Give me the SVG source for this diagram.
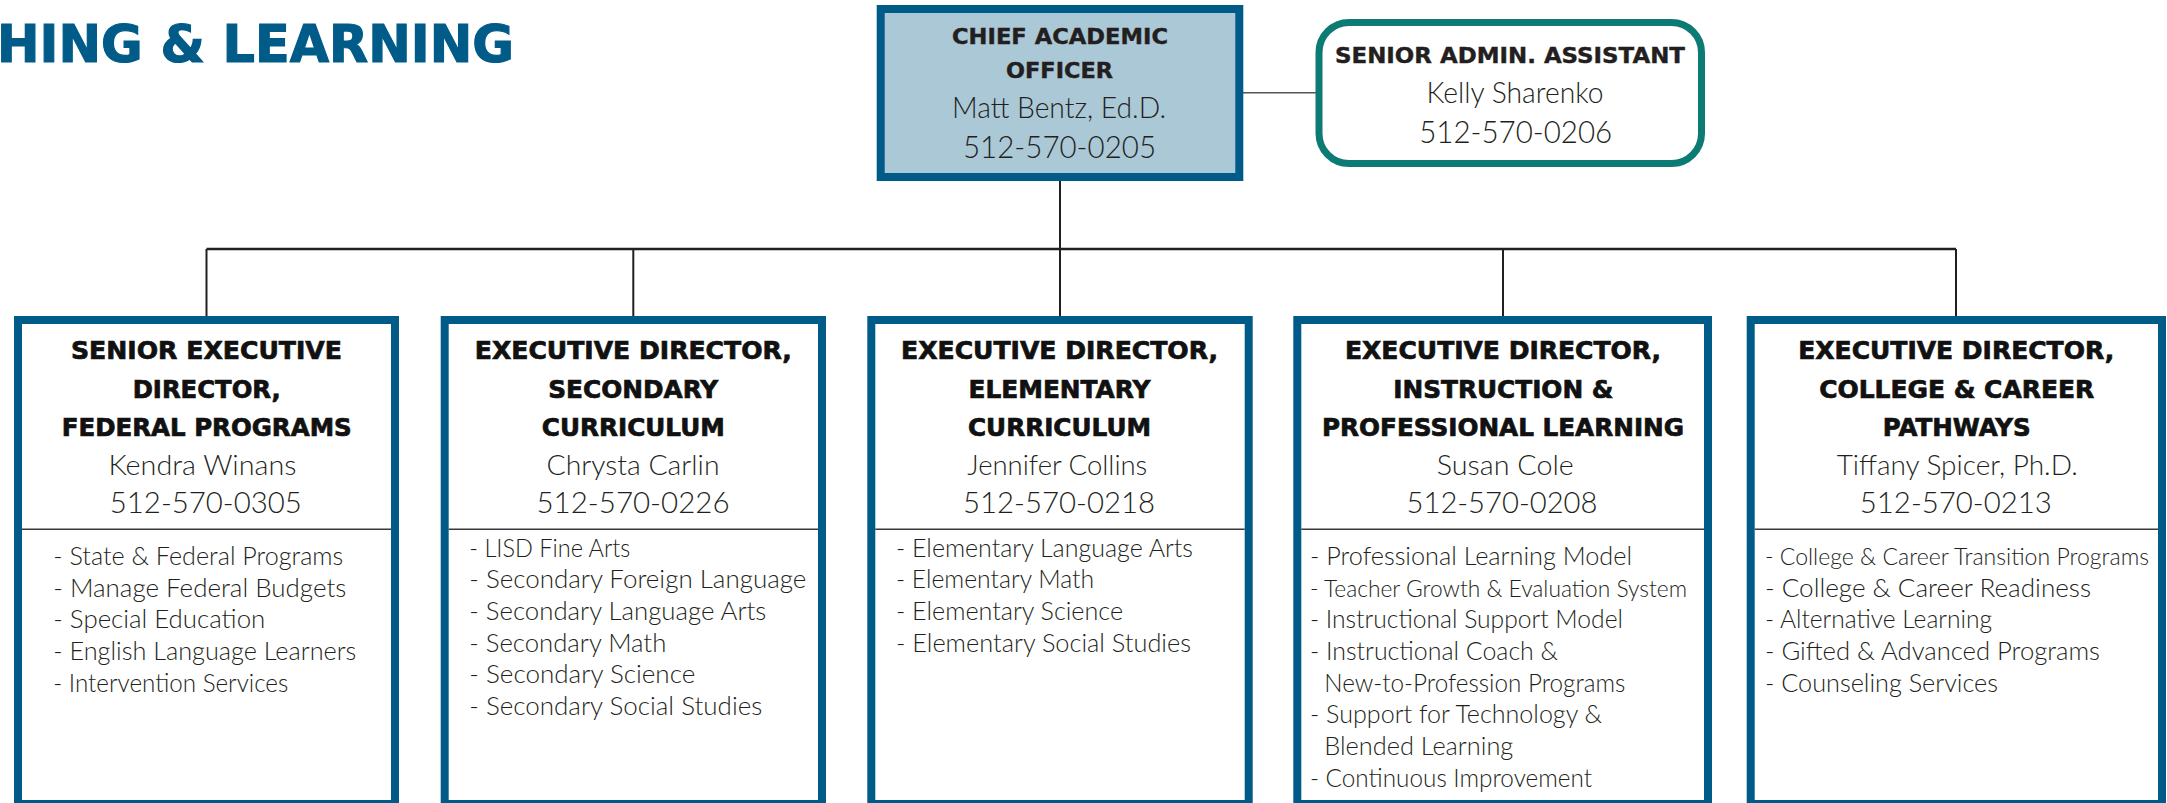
<svg xmlns="http://www.w3.org/2000/svg" width="2167" height="803" viewBox="0 0 2167 803">
<style>
.bg{fill:#ffffff}
.box{fill:#ffffff;stroke:#005b88;stroke-width:8}
.cao{fill:#abc8d7;stroke:#005b88;stroke-width:8}
.adm{fill:#ffffff;stroke:#0b7b73;stroke-width:7}
.div{stroke:#3a3a3a;stroke-width:1.5}
.con{stroke:#231f20;stroke-width:2;fill:none}
.conh{stroke:#231f20;stroke-width:2.6;fill:none}
.cona{stroke:#555555;stroke-width:1.5;fill:none}
.hdr{font-family:"DejaVu Sans",sans-serif;font-weight:700;font-size:51px;fill:#005b88;stroke:#005b88;stroke-width:1.2}
.t{font-family:"DejaVu Sans",sans-serif;font-weight:700;font-size:24px;fill:#111111;stroke:#111111;stroke-width:0.7;text-anchor:middle}
.tt{font-family:"DejaVu Sans",sans-serif;font-weight:700;font-size:21px;fill:#231f20;stroke:#231f20;stroke-width:0.4;text-anchor:middle}
.nm{font-family:Lato,"Open Sans",sans-serif;font-weight:300;font-size:28px;fill:#231f20;text-anchor:middle}
.ph{font-family:Lato,"Open Sans",sans-serif;font-weight:300;font-size:30px;fill:#231f20;text-anchor:middle}
.nmt{font-family:Lato,"Open Sans",sans-serif;font-weight:300;font-size:30px;fill:#231f20;text-anchor:middle}
.pht{font-family:Lato,"Open Sans",sans-serif;font-weight:300;font-size:31px;fill:#231f20;text-anchor:middle}
.li{font-family:Lato,"Open Sans",sans-serif;font-weight:300;font-size:26px;fill:#231f20}
.ls{font-family:Lato,"Open Sans",sans-serif;font-weight:300;font-size:23px;fill:#231f20}
</style>
<rect class="bg" x="0" y="0" width="2167" height="803"/>
<text class="hdr" x="-3" y="62" textLength="517" lengthAdjust="spacingAndGlyphs">HING &amp; LEARNING</text>

<g id="connectors">
<line class="cona" x1="1243" y1="92.7" x2="1316" y2="92.7"/>
<line class="con" x1="1060" y1="181" x2="1060" y2="249"/>
<line class="conh" x1="206.5" y1="249" x2="1956" y2="249"/>
<line class="con" x1="206.5" y1="249" x2="206.5" y2="316"/>
<line class="con" x1="633.3" y1="249" x2="633.3" y2="316"/>
<line class="con" x1="1060" y1="249" x2="1060" y2="316"/>
<line class="con" x1="1503" y1="249" x2="1503" y2="316"/>
<line class="con" x1="1956" y1="249" x2="1956" y2="316"/>
</g>

<g id="cao">
<rect class="cao" x="880.7" y="9" width="358.6" height="168"/>
<text class="tt" x="1060" y="44" textLength="216" lengthAdjust="spacingAndGlyphs">CHIEF ACADEMIC</text>
<text class="tt" x="1059.5" y="78" textLength="107" lengthAdjust="spacingAndGlyphs">OFFICER</text>
<text class="nmt" x="1059" y="118" textLength="214" lengthAdjust="spacingAndGlyphs">Matt Bentz, Ed.D.</text>
<text class="pht" x="1059.5" y="158" textLength="193" lengthAdjust="spacingAndGlyphs">512-570-0205</text>
</g>

<g id="admin">
<rect class="adm" x="1319" y="22.5" width="382.5" height="141" rx="30" ry="30"/>
<text class="tt" x="1510" y="63.3" textLength="350" lengthAdjust="spacingAndGlyphs">SENIOR ADMIN. ASSISTANT</text>
<text class="nmt" x="1515" y="102.7" textLength="177" lengthAdjust="spacingAndGlyphs">Kelly Sharenko</text>
<text class="pht" x="1515.7" y="142.7" textLength="193" lengthAdjust="spacingAndGlyphs">512-570-0206</text>
</g>

<g id="federal">
<rect class="box" x="18" y="320" width="377" height="484"/>
<line class="div" x1="22" y1="529.3" x2="391" y2="529.3"/>
<text class="t" x="206.5" y="359" textLength="271" lengthAdjust="spacingAndGlyphs">SENIOR EXECUTIVE</text>
<text class="t" x="206.7" y="398" textLength="148" lengthAdjust="spacingAndGlyphs">DIRECTOR,</text>
<text class="t" x="206.7" y="436" textLength="290" lengthAdjust="spacingAndGlyphs">FEDERAL PROGRAMS</text>
<text class="nm" x="202.5" y="474.5" textLength="188" lengthAdjust="spacingAndGlyphs">Kendra Winans</text>
<text class="ph" x="205.8" y="513" textLength="192" lengthAdjust="spacingAndGlyphs">512-570-0305</text>
<text class="li" x="53.3" y="565" textLength="290" lengthAdjust="spacingAndGlyphs">- State &amp; Federal Programs</text>
<text class="li" x="53.3" y="596.7" textLength="293" lengthAdjust="spacingAndGlyphs">- Manage Federal Budgets</text>
<text class="li" x="53.3" y="628.3" textLength="212" lengthAdjust="spacingAndGlyphs">- Special Education</text>
<text class="li" x="53.3" y="660" textLength="303" lengthAdjust="spacingAndGlyphs">- English Language Learners</text>
<text class="li" x="53.3" y="691.7" textLength="235" lengthAdjust="spacingAndGlyphs">- Intervention Services</text>
</g>

<g id="secondary">
<rect class="box" x="444.7" y="320" width="377.3" height="484"/>
<line class="div" x1="448.7" y1="529.3" x2="818" y2="529.3"/>
<text class="t" x="633.3" y="359" textLength="317" lengthAdjust="spacingAndGlyphs">EXECUTIVE DIRECTOR,</text>
<text class="t" x="633.3" y="398" textLength="170" lengthAdjust="spacingAndGlyphs">SECONDARY</text>
<text class="t" x="633.3" y="436" textLength="183" lengthAdjust="spacingAndGlyphs">CURRICULUM</text>
<text class="nm" x="633" y="474.5" textLength="173" lengthAdjust="spacingAndGlyphs">Chrysta Carlin</text>
<text class="ph" x="633" y="513" textLength="193" lengthAdjust="spacingAndGlyphs">512-570-0226</text>
<text class="li" x="469.3" y="556.7" textLength="161" lengthAdjust="spacingAndGlyphs">- LISD Fine Arts</text>
<text class="li" x="469.3" y="588.3" textLength="337" lengthAdjust="spacingAndGlyphs">- Secondary Foreign Language</text>
<text class="li" x="469.3" y="620" textLength="297" lengthAdjust="spacingAndGlyphs">- Secondary Language Arts</text>
<text class="li" x="469.3" y="651.7" textLength="197" lengthAdjust="spacingAndGlyphs">- Secondary Math</text>
<text class="li" x="469.3" y="683.3" textLength="226" lengthAdjust="spacingAndGlyphs">- Secondary Science</text>
<text class="li" x="469.3" y="715" textLength="293" lengthAdjust="spacingAndGlyphs">- Secondary Social Studies</text>
</g>

<g id="elementary">
<rect class="box" x="871.3" y="320" width="377.4" height="484"/>
<line class="div" x1="875.3" y1="529.3" x2="1244.7" y2="529.3"/>
<text class="t" x="1059.5" y="359" textLength="317" lengthAdjust="spacingAndGlyphs">EXECUTIVE DIRECTOR,</text>
<text class="t" x="1059.5" y="398" textLength="182" lengthAdjust="spacingAndGlyphs">ELEMENTARY</text>
<text class="t" x="1059.5" y="436" textLength="183" lengthAdjust="spacingAndGlyphs">CURRICULUM</text>
<text class="nm" x="1057.3" y="474.5" textLength="180" lengthAdjust="spacingAndGlyphs">Jennifer Collins</text>
<text class="ph" x="1059" y="513" textLength="192" lengthAdjust="spacingAndGlyphs">512-570-0218</text>
<text class="li" x="896" y="556.7" textLength="297" lengthAdjust="spacingAndGlyphs">- Elementary Language Arts</text>
<text class="li" x="896" y="588.3" textLength="198" lengthAdjust="spacingAndGlyphs">- Elementary Math</text>
<text class="li" x="896" y="620" textLength="227" lengthAdjust="spacingAndGlyphs">- Elementary Science</text>
<text class="li" x="896" y="651.7" textLength="295" lengthAdjust="spacingAndGlyphs">- Elementary Social Studies</text>
</g>

<g id="instruction">
<rect class="box" x="1297.3" y="320" width="410.7" height="484"/>
<line class="div" x1="1301.3" y1="529.3" x2="1704" y2="529.3"/>
<text class="t" x="1503" y="359" textLength="316" lengthAdjust="spacingAndGlyphs">EXECUTIVE DIRECTOR,</text>
<text class="t" x="1503.3" y="398" textLength="220" lengthAdjust="spacingAndGlyphs">INSTRUCTION &amp;</text>
<text class="t" x="1503" y="436" textLength="362" lengthAdjust="spacingAndGlyphs">PROFESSIONAL LEARNING</text>
<text class="nm" x="1505.3" y="474.5" textLength="137" lengthAdjust="spacingAndGlyphs">Susan Cole</text>
<text class="ph" x="1502" y="513" textLength="191" lengthAdjust="spacingAndGlyphs">512-570-0208</text>
<text class="li" x="1310" y="565" textLength="322" lengthAdjust="spacingAndGlyphs">- Professional Learning Model</text>
<text class="ls" x="1310" y="596.7" textLength="377" lengthAdjust="spacingAndGlyphs">- Teacher Growth &amp; Evaluation System</text>
<text class="li" x="1310" y="628.3" textLength="313" lengthAdjust="spacingAndGlyphs">- Instructional Support Model</text>
<text class="li" x="1310" y="660" textLength="248" lengthAdjust="spacingAndGlyphs">- Instructional Coach &amp;</text>
<text class="li" x="1324.3" y="691.7" textLength="301" lengthAdjust="spacingAndGlyphs">New-to-Profession Programs</text>
<text class="li" x="1310" y="723.3" textLength="292" lengthAdjust="spacingAndGlyphs">- Support for Technology &amp;</text>
<text class="li" x="1324.3" y="755" textLength="189" lengthAdjust="spacingAndGlyphs">Blended Learning</text>
<text class="li" x="1310" y="786.7" textLength="282" lengthAdjust="spacingAndGlyphs">- Continuous Improvement</text>
</g>

<g id="pathways">
<rect class="box" x="1750.7" y="320" width="411.3" height="484"/>
<line class="div" x1="1754.7" y1="529.3" x2="2158" y2="529.3"/>
<text class="t" x="1956.2" y="359" textLength="316" lengthAdjust="spacingAndGlyphs">EXECUTIVE DIRECTOR,</text>
<text class="t" x="1956.7" y="398" textLength="275" lengthAdjust="spacingAndGlyphs">COLLEGE &amp; CAREER</text>
<text class="t" x="1956.7" y="436" textLength="148" lengthAdjust="spacingAndGlyphs">PATHWAYS</text>
<text class="nm" x="1957.2" y="474.5" textLength="241" lengthAdjust="spacingAndGlyphs">Tiffany Spicer, Ph.D.</text>
<text class="ph" x="1955.8" y="513" textLength="192" lengthAdjust="spacingAndGlyphs">512-570-0213</text>
<text class="ls" x="1765" y="565" textLength="384" lengthAdjust="spacingAndGlyphs">- College &amp; Career Transition Programs</text>
<text class="li" x="1765" y="596.7" textLength="326" lengthAdjust="spacingAndGlyphs">- College &amp; Career Readiness</text>
<text class="li" x="1765" y="628.3" textLength="227" lengthAdjust="spacingAndGlyphs">- Alternative Learning</text>
<text class="li" x="1765" y="660" textLength="335" lengthAdjust="spacingAndGlyphs">- Gifted &amp; Advanced Programs</text>
<text class="li" x="1765" y="691.7" textLength="233" lengthAdjust="spacingAndGlyphs">- Counseling Services</text>
</g>
</svg>
